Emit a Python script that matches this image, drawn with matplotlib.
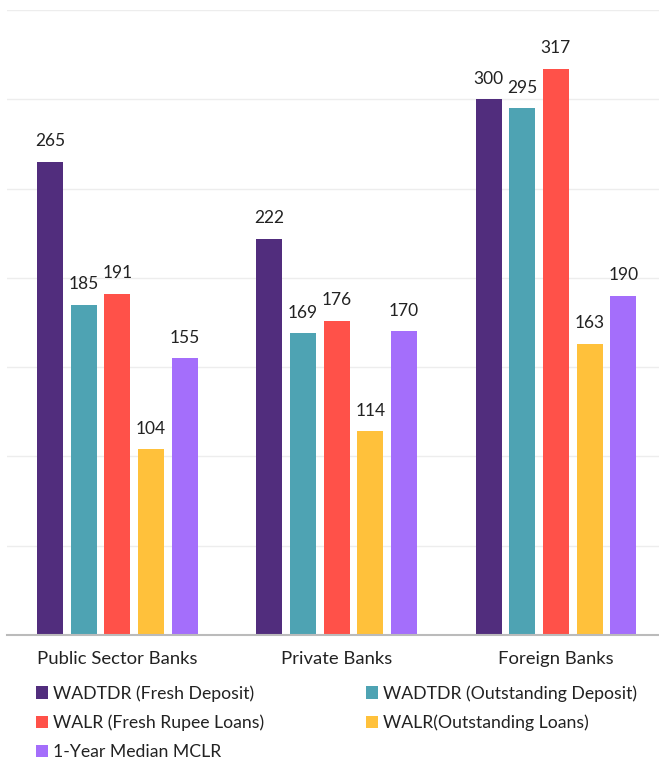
import matplotlib
matplotlib.use("Agg")
import matplotlib.pyplot as plt
from matplotlib.patches import Patch
import numpy as np

categories = ["Public Sector Banks", "Private Banks", "Foreign Banks"]
series_names = ["WADTDR (Fresh Deposit)", "WADTDR (Outstanding Deposit)",
                "WALR (Fresh Rupee Loans)", "WALR(Outstanding Loans)",
                "1-Year Median MCLR"]
wadtdr_fresh = [265, 222, 300]
wadtdr_out = [185, 169, 295]
walr_fresh = [191, 176, 317]
walr_out = [104, 114, 163]
mclr = [155, 170, 190]
series = [wadtdr_fresh, wadtdr_out, walr_fresh, walr_out, mclr]
colors = ["#512D7D", "#4EA3B3", "#FF5149", "#FFC13B", "#A46EFB"]

plt.rcParams['font.family'] = ['Lato', 'DejaVu Sans']
txt = "#222222"

fig = plt.figure(figsize=(6.59, 7.60), dpi=100)
ax = fig.add_axes([7/659, 1-635/760, 652/659, 625/760])

x = np.arange(len(categories))
w = 0.118
step = 0.1535
for i, (vals, c) in enumerate(zip(series, colors)):
    pos = x + (i - 2) * step
    ax.bar(pos, vals, width=w, color=c, zorder=3)
    for p, v in zip(pos, vals):
        ax.annotate(str(v), (p, v), xytext=(0, 9), textcoords="offset points",
                    ha="center", va="bottom", fontsize=12.5, color=txt)

ax.set_xlim(-0.503, 2.47)
ax.set_ylim(0, 350)
ax.set_yticks(np.arange(0, 351, 50))
ax.yaxis.grid(True, color="#EDEDED", linewidth=1, zorder=0)
ax.tick_params(axis='y', left=False, labelleft=False)
ax.tick_params(axis='x', bottom=False, labelsize=13.3, labelcolor=txt, pad=8)
ax.set_xticks(x)
ax.set_xticklabels(categories)
for s in ["top", "right", "left"]:
    ax.spines[s].set_visible(False)
ax.spines["bottom"].set_color("#BBBBBB")
ax.spines["bottom"].set_linewidth(1.5)
ax.spines["bottom"].set_zorder(4)

handles = [Patch(facecolor=c, edgecolor='none') for c in colors]
kw = dict(frameon=False, fontsize=12.7, handlelength=0.7, handleheight=0.7,
          handletextpad=0.25, labelspacing=0.74, borderaxespad=0, borderpad=0,
          labelcolor=txt)
leg1 = fig.legend([handles[0], handles[2], handles[4]],
                  [series_names[0], series_names[2], series_names[4]],
                  loc="upper left", bbox_to_anchor=(36/659, 1-685/760), **kw)
leg2 = fig.legend([handles[1], handles[3]],
                  [series_names[1], series_names[3]],
                  loc="upper left", bbox_to_anchor=(366/659, 1-685/760), **kw)

fig.savefig("out.png", dpi=100)
